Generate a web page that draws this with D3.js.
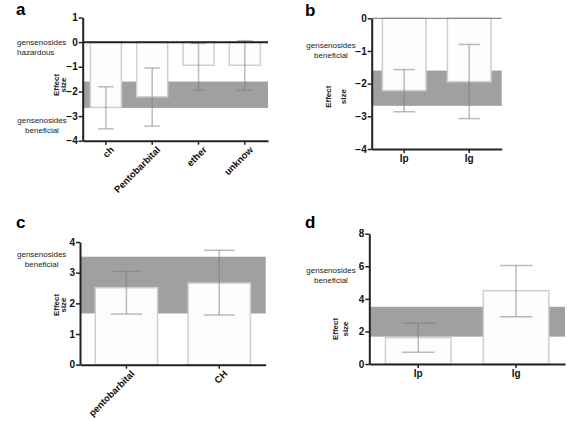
<!DOCTYPE html>
<html><head><meta charset="utf-8">
<script src="https://cdn.jsdelivr.net/npm/d3@7"></script>
<style>body{margin:0;background:#fff}svg{display:block;font-family:Arial,"Liberation Sans",sans-serif}</style>
</head><body><svg id="c" width="567" height="421"></svg>
<script>
// ---- data ----
const aCategories = ["ch", "Pentobarbital", "ether", "unknow"];
const aValues = [-2.65, -2.22, -0.94, -0.94];
const aLower = [-3.52, -3.41, -1.95, -1.95];
const aUpper = [-1.81, -1.05, -0.05, 0.06];
const aBand = [-2.67, -1.6];
const aTicks = [1, 0, -1, -2, -3, -4];

const bCategories = ["Ip", "Ig"];
const bValues = [-2.21, -1.94];
const bLower = [-2.86, -3.07];
const bUpper = [-1.57, -0.8];
const bBand = [-2.68, -1.6];
const bTicks = [0, -1, -2, -3, -4];

const cCategories = ["pentobarbital", "CH"];
const cValues = [2.51, 2.66];
const cLower = [1.65, 1.62];
const cUpper = [3.04, 3.73];
const cBand = [1.67, 3.52];
const cTicks = [0, 1, 2, 3, 4];

const dCategories = ["Ip", "Ig"];
const dValues = [1.62, 4.5];
const dLower = [0.72, 2.9];
const dUpper = [2.5, 6.05];
const dBand = [1.68, 3.51];
const dTicks = [0, 2, 4, 6, 8];

const svg = d3.select("#c");
const AX = "#222";
const FONT = "Arial, 'Liberation Sans', sans-serif";

function panel(o) {
  const g = svg.append("g");
  const y = d3.scaleLinear().domain(o.domain).range([o.y0, o.y1]);
  const x = d3.scaleBand().domain(o.cats).range([o.x0, o.x1]).paddingInner(0.33).paddingOuter(0.165);
  // band
  g.append("rect").attr("x", o.x0).attr("width", o.x1 - o.x0)
    .attr("y", y(d3.max(o.band))).attr("height", y(d3.min(o.band)) - y(d3.max(o.band)))
    .attr("fill", "#a0a0a0");
  // bars
  g.selectAll(".bar").data(o.cats).join("rect")
    .attr("x", d => x(d)).attr("width", x.bandwidth())
    .attr("y", (d, i) => Math.min(y(0), y(o.vals[i])))
    .attr("height", (d, i) => Math.abs(y(0) - y(o.vals[i])))
    .attr("fill", "#fdfdfd").attr("stroke", "#cfcfcf").attr("stroke-width", 1.5);
  // error bars
  const eb = g.append("g").attr("stroke", "#7a7a7a").attr("stroke-opacity", 0.5).attr("stroke-width", 1.5);
  o.cats.forEach((c, i) => {
    const cx = x(c) + x.bandwidth() / 2, hw = x.bandwidth() / 4;
    eb.append("line").attr("x1", cx).attr("x2", cx).attr("y1", y(o.lo[i])).attr("y2", y(o.hi[i]));
    eb.append("line").attr("x1", cx - hw).attr("x2", cx + hw).attr("y1", y(o.lo[i])).attr("y2", y(o.lo[i]));
    eb.append("line").attr("x1", cx - hw).attr("x2", cx + hw).attr("y1", y(o.hi[i])).attr("y2", y(o.hi[i]));
  });
  // zero / top line
  if (o.zeroLine) {
    g.append("line").attr("x1", o.x0).attr("x2", o.x1).attr("y1", y(0)).attr("y2", y(0))
      .attr("stroke", o.zeroLine.color).attr("stroke-width", o.zeroLine.w);
  }
  // y axis
  const ya = g.append("g").attr("transform", `translate(${o.x0},0)`)
    .call(d3.axisLeft(y).tickValues(o.ticks).tickSize(4).tickSizeOuter(0).tickFormat(d3.format("d")));
  ya.select(".domain").attr("stroke", AX).attr("stroke-width", 2);
  ya.selectAll(".tick line").attr("stroke", AX).attr("stroke-width", 1.5);
  ya.selectAll(".tick text").attr("font-size", 10).attr("font-weight", "bold").attr("fill", "#111").attr("x", -5)
    .style("font-family", FONT);
  // x axis (ticks only; labels drawn below)
  const xa = g.append("g").attr("transform", `translate(0,${o.y0})`)
    .call(d3.axisBottom(x).tickSize(4).tickSizeOuter(0).tickFormat(""));
  xa.select(".domain").attr("stroke", AX).attr("stroke-width", 2);
  xa.selectAll(".tick line").attr("stroke", AX).attr("stroke-width", 1.5);
  xa.selectAll(".tick text").remove();
  o.cats.forEach(c => {
    const cx = x(c) + x.bandwidth() / 2;
    const t = g.append("text").attr("font-weight", "bold").attr("fill", "#111")
      .style("font-family", FONT).text(c);
    if (o.rotate) {
      t.attr("font-size", 9.5).attr("text-anchor", "end").attr("dy", "0.71em")
        .attr("transform", `translate(${cx + 4},${o.y0 + 5}) rotate(-45)`);
    } else {
      t.attr("font-size", 10).attr("text-anchor", "middle").attr("x", cx).attr("y", o.y0 + 13);
    }
  });
  // Effect size label
  g.append("text").attr("transform", `translate(${o.eff[0]},${o.eff[2]}) rotate(-90)`)
    .attr("text-anchor", "middle").attr("dominant-baseline", "central")
    .attr("font-size", 8).attr("font-weight", "bold").attr("fill", "#222").text("Effect");
  g.append("text").attr("transform", `translate(${o.eff[1]},${o.eff[2]}) rotate(-90)`)
    .attr("text-anchor", "middle").attr("dominant-baseline", "central")
    .attr("font-size", 8).attr("font-weight", "bold").attr("fill", "#222").text("size");
  // annotations
  o.notes.forEach(n => {
    n.lines.forEach((t, k) => {
      g.append("text").attr("x", n.x).attr("y", n.y + k * 10).attr("text-anchor", n.anchor)
        .attr("dominant-baseline", "central").attr("font-size", 8).attr("fill", "#222").text(t);
    });
  });
  // panel label
  g.append("text").attr("x", o.label[1]).attr("y", o.label[2]).attr("font-size", 17)
    .attr("font-weight", "bold").attr("fill", "#000").text(o.label[0]);
}

panel({cats: aCategories, vals: aValues, lo: aLower, hi: aUpper, band: aBand, ticks: aTicks,
  domain: [-4, 1], y0: 140.7, y1: 17.5, x0: 82.7, x1: 268, rotate: true,
  zeroLine: {color: AX, w: 2}, eff: [56, 63, 85],
  notes: [{x: 17, y: 42, anchor: "start", lines: ["gensenosides", "hazardous"]},
          {x: 42, y: 120, anchor: "middle", lines: ["gensenosides", "beneficial"]}],
  label: ["a", 16, 15]});

panel({cats: bCategories, vals: bValues, lo: bLower, hi: bUpper, band: bBand, ticks: bTicks,
  domain: [-4, 0], y0: 149, y1: 18.3, x0: 371.7, x1: 501.7, rotate: false,
  zeroLine: {color: "#888", w: 1.2}, eff: [328.5, 343.5, 96.7],
  notes: [{x: 331, y: 45.7, anchor: "middle", lines: ["gensenosides", "beneficial"]}],
  label: ["b", 305, 15.5]});

panel({cats: cCategories, vals: cValues, lo: cLower, hi: cUpper, band: cBand, ticks: cTicks,
  domain: [0, 4], y0: 364.7, y1: 242, x0: 80, x1: 265.7, rotate: true,
  zeroLine: null, eff: [56.3, 63.3, 305],
  notes: [{x: 41.7, y: 254, anchor: "middle", lines: ["gensenosides", "beneficial"]}],
  label: ["c", 16, 227.5]});

panel({cats: dCategories, vals: dValues, lo: dLower, hi: dUpper, band: dBand, ticks: dTicks,
  domain: [0, 8], y0: 364, y1: 233.7, x0: 369.3, x1: 565, rotate: false,
  zeroLine: null, eff: [335, 345, 329],
  notes: [{x: 331, y: 270, anchor: "middle", lines: ["gensenosides", "beneficial"]}],
  label: ["d", 305, 227.5]});
</script></body></html>
